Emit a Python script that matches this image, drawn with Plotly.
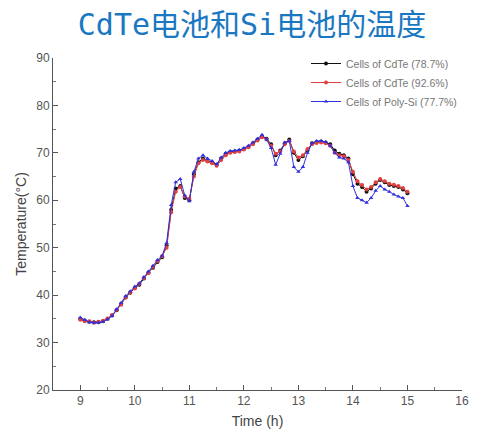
import plotly.graph_objects as go

time_h = [9 + k / 12 for k in range(73)]

cdte_787 = [35.0, 34.6, 34.4, 34.3, 34.3, 34.5, 35.0, 35.7, 36.8, 38.2,
            39.5, 40.5, 41.5, 42.2, 43.5, 44.8, 45.8, 47.0, 48.0, 50.5,
            58.0, 62.5, 63.0, 60.5, 60.0, 65.5, 68.0, 68.8, 68.3, 68.0,
            67.5, 68.8, 69.8, 70.2, 70.3, 70.5, 70.8, 71.3, 72.0, 72.8,
            73.5, 73.0, 71.8, 69.5, 70.5, 72.0, 72.8, 70.0, 68.5, 69.3,
            70.5, 72.0, 72.3, 72.4, 72.2, 71.8, 70.5, 69.8, 69.5, 68.8,
            65.5, 63.5, 62.8, 61.8, 62.5, 63.5, 64.3, 63.8, 63.2, 63.0,
            62.8, 62.3, 61.5]

cdte_926 = [34.8, 34.5, 34.5, 34.2, 34.4, 34.6, 35.1, 35.8, 36.9, 38.0,
            39.6, 40.6, 41.4, 42.4, 43.6, 44.6, 46.0, 47.2, 48.2, 50.0,
            57.5, 61.8, 62.8, 60.8, 60.3, 65.0, 67.8, 68.5, 68.2, 67.8,
            67.3, 68.5, 69.5, 70.0, 70.2, 70.3, 70.7, 71.2, 71.8, 72.6,
            73.3, 72.8, 71.5, 69.8, 70.3, 71.8, 72.5, 70.3, 69.0, 69.5,
            70.8, 71.8, 72.1, 72.2, 72.0, 71.5, 70.0, 69.5, 69.3, 68.5,
            66.0, 64.0, 63.2, 62.3, 62.8, 63.8, 64.5, 64.0, 63.5, 63.3,
            63.0, 62.6, 61.8]

poly_si_777 = [35.3, 34.8, 34.3, 34.2, 34.2, 34.4, 34.9, 35.6, 37.0, 38.4,
               39.8, 40.8, 41.8, 42.5, 43.8, 45.0, 46.2, 47.4, 48.3, 51.0,
               59.0, 63.8, 64.5, 61.0, 59.8, 66.0, 68.8, 69.5, 68.8, 68.3,
               67.6, 69.0, 70.0, 70.4, 70.5, 70.6, 71.0, 71.5, 72.2, 73.0,
               73.8, 72.8, 71.0, 67.5, 69.8, 72.2, 72.5, 67.0, 66.0, 67.0,
               70.0, 72.0, 72.5, 72.5, 72.3, 71.5, 70.0, 69.0, 68.8, 68.0,
               63.0, 60.5, 60.0, 59.5, 60.5, 62.0, 63.0, 62.3, 61.8, 61.2,
               60.8, 60.5, 58.8]

series_names = ["Cells of CdTe (78.7%)", "Cells of CdTe (92.6%)", "Cells of Poly-Si (77.7%)"]

x_ticks = [9, 10, 11, 12, 13, 14, 15, 16]
y_ticks = [20, 30, 40, 50, 60, 70, 80, 90]

fig = go.Figure()
styles = [
    (cdte_787, "#111111", "circle"),
    (cdte_926, "#e04040", "circle"),
    (poly_si_777, "#3030e0", "triangle-up"),
]
for (vals, col, sym), name in zip(styles, series_names):
    fig.add_trace(go.Scatter(
        x=time_h, y=vals, mode="lines+markers", name=name,
        line=dict(color=col, width=1),
        marker=dict(color=col, size=4, symbol=sym),
    ))

axis_font = dict(family="Liberation Sans, Arial, sans-serif", size=12, color="#555555")

fig.update_layout(
    width=491, height=440,
    margin=dict(l=53, r=29, t=58, b=50, autoexpand=False),
    paper_bgcolor="white", plot_bgcolor="white",
    title=dict(
        text="CdTe电池和Si电池的温度",
        font=dict(family="DejaVu Sans Mono, Noto Sans CJK SC, monospace", size=30, color="#1a78c2"),
        x=252 / 491, xanchor="center", xref="container",
        y=1 - 24 / 440, yanchor="middle", yref="container",
    ),
    showlegend=True,
    legend=dict(
        x=(306 - 53) / 409, xanchor="left", xref="paper",
        y=(390 - 49) / 332, yanchor="top", yref="paper",
        font=dict(family="Liberation Sans, Arial, sans-serif", size=10.5, color="#777777"),
        bgcolor="rgba(0,0,0,0)",
        tracegroupgap=0,
    ),
    font=axis_font,
)

fig.update_xaxes(
    range=[8.5, 16], tickvals=x_ticks, ticktext=[str(v) for v in x_ticks],
    showline=True, linecolor="#555555", linewidth=1,
    ticks="inside", ticklen=5, tickcolor="#555555",
    minor=dict(dtick=0.5, ticks="inside", ticklen=3, tickcolor="#777777", showgrid=False),
    showgrid=False, zeroline=False, mirror=False,
    title=dict(text="Time (h)", font=dict(size=14, color="#444444"), standoff=8),
    tickfont=axis_font,
)
fig.update_yaxes(
    range=[20, 90], tickvals=y_ticks, ticktext=[str(v) for v in y_ticks],
    showline=True, linecolor="#555555", linewidth=1,
    ticks="inside", ticklen=5, tickcolor="#555555",
    minor=dict(dtick=5, ticks="inside", ticklen=3, tickcolor="#777777", showgrid=False),
    showgrid=False, zeroline=False, mirror=False,
    title=dict(text="Temperature(°C)", font=dict(size=14, color="#444444"), standoff=6),
    tickfont=axis_font,
)

fig.write_html("out.html")
